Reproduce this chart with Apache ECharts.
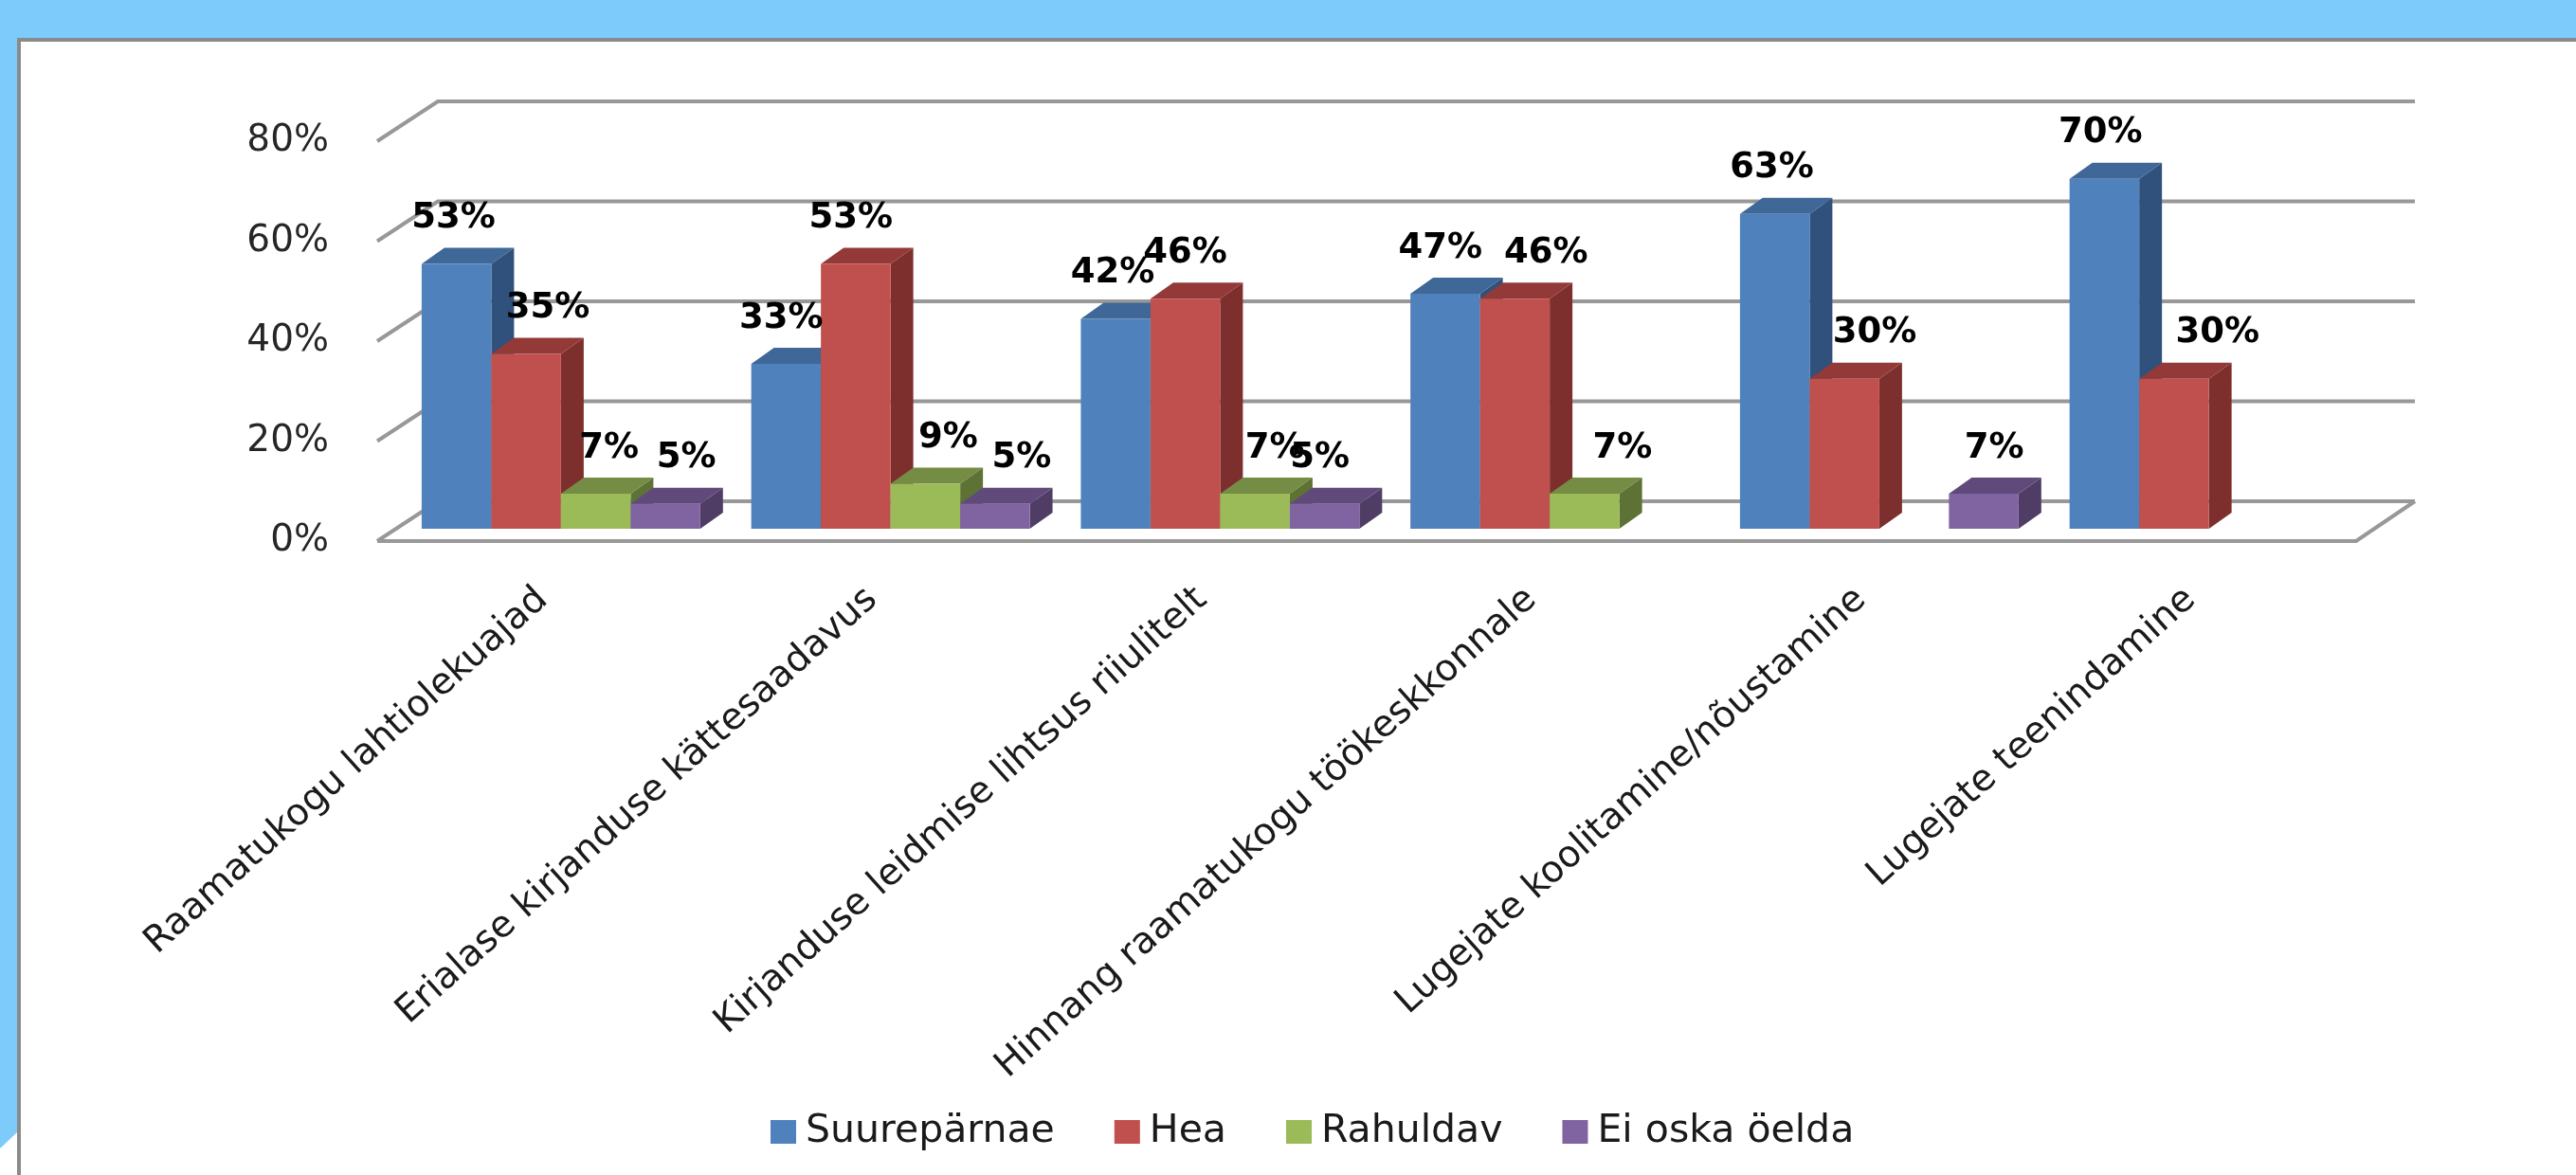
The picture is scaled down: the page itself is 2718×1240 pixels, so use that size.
<!DOCTYPE html>
<html>
<head>
<meta charset="utf-8">
<title>Raamatukogu hinnang</title>
<style>
    html, body { margin: 0; padding: 0; background: #fff; }
    #main { width: 2718px; height: 1240px; }
</style>
<script src="https://cdn.jsdelivr.net/npm/echarts@6/dist/echarts.min.js"></script>
</head>
<body>
<div id="main"></div>
<script>
var categories = ['Raamatukogu lahtiolekuajad', 'Erialase kirjanduse kättesaadavus', 'Kirjanduse leidmise lihtsus riiulitelt',
    'Hinnang raamatukogu töökeskkonnale', 'Lugejate koolitamine/nõustamine', 'Lugejate teenindamine'];
var seriesNames = ['Suurepärnae', 'Hea', 'Rahuldav', 'Ei oska öelda'];
var suureparnae = [53, 33, 42, 47, 63, 70];
var hea = [35, 53, 46, 46, 30, 30];
var rahuldav = [7, 9, 7, 7, null, null];
var eiOska = [5, 5, 5, null, 7, null];
var yTicks = [0, 20, 40, 60, 80];

// hand-placed labels in the original, sideways shift per bar
var shiftBlue = [-3, -5, -3, -5, -3, -4];
var shiftRed = [23, -5, 0, 33, 32, 46];
var shiftGreen = [14, 24, 21, 40, 0, 0];
var shiftPurple = [22, 28, -5, 0, 11, 0];

var allValues = [suureparnae, hea, rahuldav, eiOska];
var allShifts = [shiftBlue, shiftRed, shiftGreen, shiftPurple];
var frontColors = ['#4f81bd', '#c0504d', '#9bbb59', '#8064a2'];
var topColors = ['#3f6797', '#933a38', '#748c43', '#604a7b'];
var sideColors = ['#30517b', '#7d2f2d', '#5e7236', '#503d66'];

var TEXT_FONT = 'DejaVu Sans';
var BAR_RATIO = 0.2113;
var BAR_DX = 24, BAR_DY = 17;   // depth of the bars
var WALL_DX = 64, WALL_DY = 42; // depth of the walls

// 3d bar: front, top and side faces
function renderBar(s) {
    return function (params, api) {
        var i = api.value(0);
        var p = api.coord([i, api.value(1)]);
        var base = api.coord([i, 0])[1];
        var w = api.size([1, 0])[0] * BAR_RATIO;
        var x0 = p[0] - 2 * w + s * w;
        var x1 = x0 + w;
        var y = p[1];
        return {
            type: 'group',
            children: [
                {type: 'polygon', shape: {points: [[x1, y], [x1 + BAR_DX, y - BAR_DY], [x1 + BAR_DX, base - BAR_DY], [x1, base]]}, style: {fill: sideColors[s]}},
                {type: 'polygon', shape: {points: [[x0, y], [x1, y], [x1 + BAR_DX, y - BAR_DY], [x0 + BAR_DX, y - BAR_DY]]}, style: {fill: topColors[s]}},
                {type: 'rect', shape: {x: x0, y: y, width: w, height: base - y}, style: {fill: frontColors[s]}}
            ]
        };
    };
}

function renderLabel(params, api) {
    var i = api.value(0);
    var s = api.value(2);
    var p = api.coord([i, api.value(1)]);
    var w = api.size([1, 0])[0] * BAR_RATIO;
    return {
        type: 'text',
        style: {
            x: p[0] - 2 * w + s * w + w / 2 + api.value(3),
            y: p[1] - 48,
            text: api.value(1) + '%',
            fill: '#000',
            font: 'bold 37px "' + TEXT_FONT + '"',
            align: 'center',
            verticalAlign: 'middle'
        }
    };
}

// side wall + back wall line for one tick
function renderWall(params, api) {
    var y = api.coord([0, api.value(0)])[1];
    var x = params.coordSys.x;
    var w = params.coordSys.width;
    var children = [{
        type: 'polyline',
        shape: {points: [[x, y], [x + WALL_DX, y - WALL_DY], [x + w + WALL_DX - 2, y - WALL_DY]]},
        style: {stroke: '#989898', lineWidth: 4, fill: null}
    }];
    if (api.value(0) === 0) {
        children.push({
            type: 'polyline',
            shape: {points: [[x, y], [x + w, y], [x + w + WALL_DX - 2, y - WALL_DY]]},
            style: {stroke: '#989898', lineWidth: 4, fill: null}
        });
    }
    return {type: 'group', children: children};
}

var series = [{
    name: 'walls',
    type: 'custom',
    xAxisIndex: 1,
    yAxisIndex: 1,
    silent: true,
    z: 1,
    encode: {y: 0},
    data: yTicks.map(function (t) { return [t]; }),
    renderItem: renderWall
}];

allValues.forEach(function (values, s) {
    var rows = [];
    values.forEach(function (v, i) {
        if (v !== null) rows.push([i, v]);
    });
    series.push({
        name: seriesNames[s],
        type: 'custom',
        xAxisIndex: 0,
        yAxisIndex: 0,
        z: 2,
        itemStyle: {color: frontColors[s]},
        encode: {x: 0, y: 1},
        data: rows,
        renderItem: renderBar(s)
    });
});

var labelRows = [];
allValues.forEach(function (values, s) {
    values.forEach(function (v, i) {
        if (v !== null) labelRows.push([i, v, s, allShifts[s][i]]);
    });
});
series.push({
    name: 'labels',
    type: 'custom',
    xAxisIndex: 0,
    yAxisIndex: 0,
    silent: true,
    z: 5,
    encode: {x: 0, y: 1},
    data: labelRows,
    renderItem: renderLabel
});

var myChart = echarts.init(document.getElementById('main'));
var option = {
    animation: false,
    backgroundColor: '#fff',
    textStyle: {fontFamily: TEXT_FONT},
    // slide frame behind the chart
    graphic: [
        {type: 'rect', silent: true, z: -1, shape: {x: 0, y: 0, width: 2718, height: 40}, style: {fill: '#7ccbfb'}},
        {type: 'polygon', silent: true, z: -1, shape: {points: [[0, 0], [18, 0], [18, 1195], [0, 1212]]}, style: {fill: '#7ccbfb'}},
        {type: 'rect', silent: true, z: -1, shape: {x: 18, y: 40, width: 2700, height: 4}, style: {fill: '#8a8a8a'}},
        {type: 'rect', silent: true, z: -1, shape: {x: 18, y: 40, width: 4, height: 1200}, style: {fill: '#8a8a8a'}}
    ],
    legend: {
        data: seriesNames,
        left: 808,
        top: 1169,
        icon: 'rect',
        itemWidth: 27,
        itemHeight: 25,
        itemGap: 63,
        textStyle: {fontFamily: TEXT_FONT, fontSize: 41, color: '#1a1a1a', padding: [0, 0, 0, 5]}
    },
    grid: [
        {left: 418, top: 136, width: 2086.5, height: 422},
        {left: 398, top: 149, width: 2088, height: 422}
    ],
    xAxis: [{
        type: 'category',
        gridIndex: 0,
        data: categories,
        axisLine: {show: false},
        axisTick: {show: false},
        axisLabel: {rotate: 42, interval: 0, fontFamily: TEXT_FONT, fontSize: 39, color: '#1a1a1a', margin: 52, padding: [0, 26, 0, 0]}
    }, {
        type: 'category',
        gridIndex: 1,
        data: categories,
        show: false
    }],
    yAxis: [{
        type: 'value',
        gridIndex: 0,
        min: 0,
        max: 80,
        interval: 20,
        show: false
    }, {
        type: 'value',
        gridIndex: 1,
        min: 0,
        max: 80,
        interval: 20,
        axisLine: {show: false},
        axisTick: {show: false},
        splitLine: {show: false},
        axisLabel: {formatter: '{value}%', fontFamily: TEXT_FONT, fontSize: 39, color: '#262626', margin: 51}
    }],
    series: series
};
myChart.setOption(option);
</script>
</body>
</html>
